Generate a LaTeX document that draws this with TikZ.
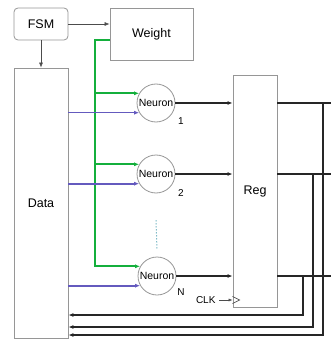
\documentclass[tikz,border=0pt]{standalone}
\usepackage{fontspec}
\setmainfont{Liberation Sans}
\usepackage{tikz}
\usepackage{xcolor}
\usetikzlibrary{arrows.meta, positioning, calc}

\definecolor{boxgray}{RGB}{150,150,150}
\definecolor{wgreen}{RGB}{20,175,60}
\definecolor{dblue}{RGB}{100,90,190}
\definecolor{dotteal}{RGB}{60,150,170}

\tikzset{
    block/.style={draw=boxgray, line width=0.8pt, fill=white, inner sep=0pt, font=\fontsize{12.5}{14}\selectfont},
    neuron/.style={circle, draw=boxgray, line width=0.8pt, minimum size=38pt, inner sep=0pt, font=\fontsize{10.5}{12}\selectfont},
    tip/.style={-{Latex[length=5pt,width=4pt]}},
    ctrl/.style={tip, draw=black!70, line width=0.6pt},
    garrow/.style={tip, draw=wgreen, line width=1.8pt},
    barrow/.style={tip, draw=dblue, line width=1.6pt},
    oarrow/.style={tip, draw=black!85, line width=1.6pt},
    small/.style={font=\fontsize{10}{12}\selectfont}
}

\begin{document}
\begin{tikzpicture}[x=1pt, y=-1pt]
    % Canvas
    \useasboundingbox (0,0) rectangle (331,339);
    \coordinate (redge) at (331,0);

    % Blocks
    \node[block, rounded corners=4pt, minimum width=54pt, minimum height=32pt] (fsm) at (41,24) {FSM};
    \node[block, minimum width=83pt, minimum height=52pt] (weight) at (151.5,34) {Weight};
    \node[block, minimum width=54pt, minimum height=270pt] (data) at (41,203) {Data};
    \node[block, minimum width=44pt, minimum height=232pt] (reg) at (255,191) {Reg};

    % Neurons
    \node[neuron] (n1) at (156,103) {Neuron};
    \node[neuron] (n2) at (156,174) {Neuron};
    \node[neuron] (nN) at (157,276) {Neuron};
    \node[small] (l1) at (181,121) {1};
    \node[small] (l2) at (181,193) {2};
    \node[small] (lN) at (181,292) {N};
    \draw[dotteal, line width=1pt, dotted] ($(n2.south)+(0,27)$) -- ($(nN.north)+(0,-7)$);

    % Control
    \draw[ctrl] (fsm.east) -- (fsm.east -| weight.west);
    \draw[ctrl] (fsm.south) -- (data.north);

    % Weight bus
    \coordinate (gtop) at (95,40);
    \draw[garrow] (weight.west |- gtop) -- (gtop) -- (gtop |- nN.150) -- (nN.150);
    \draw[garrow] (gtop |- n1.150) -- (n1.150);
    \draw[garrow] (gtop |- n2.150) -- (n2.150);

    % Data inputs
    \draw[barrow] (data.east |- n1.210) -- (n1.210);
    \draw[barrow] (data.east |- n2.210) -- (n2.210);
    \draw[barrow] (data.east |- nN.210) -- (nN.210);

    % Neuron outputs
    \draw[oarrow] (n1.east) -- (reg.west |- n1.east);
    \draw[oarrow] (n2.east) -- (reg.west |- n2.east);
    \draw[oarrow] (nN.east) -- (reg.west |- nN.east);

    % Clock
    \node[small, anchor=east] (clk) at (219,300) {CLK};
    \draw[ctrl, -{Latex[length=4pt,width=3pt]}] (clk.east) -- (reg.west |- clk.east);
    \draw[black!70, line width=0.6pt] ($(reg.west |- clk.east)+(0,-3.5)$) -- ++(7,3.5) -- ++(-7,3.5);

    % Register outputs and feedback
    \coordinate (f1) at (323,335);
    \coordinate (f2) at (313,327);
    \coordinate (f3) at (303,315);
    \draw[black!85, line width=1.6pt] (reg.east |- n1.east) -- (redge |- n1.east);
    \draw[black!85, line width=1.6pt] (reg.east |- n2.east) -- (redge |- n2.east);
    \draw[black!85, line width=1.6pt] (reg.east |- nN.east) -- (redge |- nN.east);
    \draw[oarrow] (f1 |- n1.east) -- (f1) -- (data.east |- f1);
    \draw[oarrow] (f2 |- n2.east) -- (f2) -- (data.east |- f2);
    \draw[oarrow] (f3 |- nN.east) -- (f3) -- (data.east |- f3);
\end{tikzpicture}
\end{document}
